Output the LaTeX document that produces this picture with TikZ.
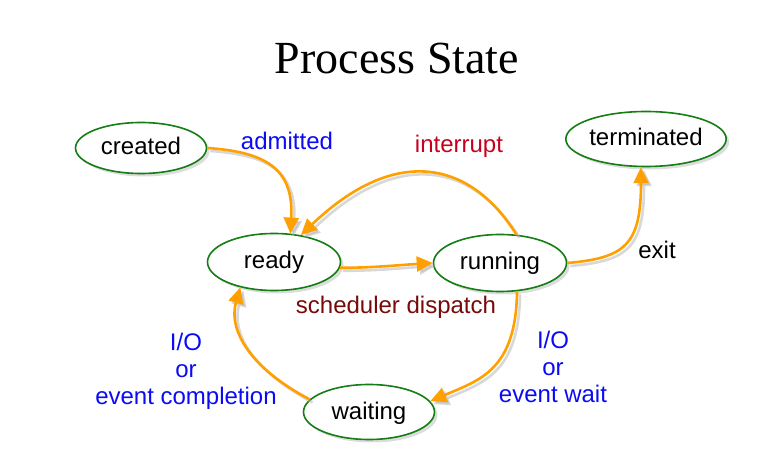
\documentclass[tikz,border=0pt]{standalone}
\usepackage{fontspec}
\setmainfont{Liberation Sans}
\newfontfamily\titlefont{Liberation Serif}
\usetikzlibrary{shapes.geometric,arrows.meta,shadows}
\definecolor{stategreen}{RGB}{20,125,20}
\definecolor{flow}{RGB}{255,160,0}
\definecolor{lblblue}{RGB}{10,10,245}
\definecolor{lblred}{RGB}{200,0,30}
\definecolor{lblmaroon}{RGB}{120,10,10}
\tikzset{
  statebox/.style={ellipse, draw=stategreen, line width=1.6pt, fill=white,
    inner sep=0pt, text height=16pt, text depth=2pt,
    font=\fontsize{24}{27}\selectfont,
    drop shadow={opacity=0.28, shadow xshift=3pt, shadow yshift=-3pt}},
  flowline/.style={draw=flow, line width=2.6pt,
    -{Triangle[length=16pt,width=15pt]},
    preaction={draw=black!30, line width=2.6pt, opacity=0.5,
      transform canvas={shift={(3,3)}}}},
  lbl/.style={font=\fontsize{24}{27}\selectfont, align=center, inner sep=0pt}
}
\begin{document}
\begin{tikzpicture}[x=1pt,y=-1pt]
\useasboundingbox (0,0) rectangle (764,465);

\node[anchor=base, inner sep=0pt, font=\titlefont\fontsize{46}{50}\selectfont] (title) at (397,74) {Process State};

\node[statebox, minimum width=131pt, minimum height=51pt] (created) at (141,148) {created};
\node[statebox, minimum width=133pt, minimum height=57pt] (ready) at (274,262) {ready};
\node[statebox, minimum width=133pt, minimum height=57pt] (running) at (500,263) {running};
\node[statebox, minimum width=132pt, minimum height=55pt] (terminated) at (646,139) {terminated};
\node[statebox, minimum width=131pt, minimum height=55pt] (waiting) at (369,412) {waiting};

% transitions
\draw[flowline] (created.east) .. controls (265,152) and (294,168) .. (ready.60);
\draw[flowline] (running.60) .. controls (470,160) and (395,145) .. (ready.45);
\draw[flowline] (ready.-5) .. controls (370,268) and (400,265) .. (running.west);
\draw[flowline] (running.east) .. controls (625,258) and (641,245) .. (terminated.-100);
\draw[flowline] (running.-59) .. controls (516,370) and (480,380) .. (waiting.10);
\draw[flowline] (waiting.168) .. controls (250,368) and (228,330) .. (ready.-143);

% transition labels
\node[lbl, text=lblblue, anchor=base] (admitted) at (287,150) {admitted};
\node[lbl, text=lblred, anchor=base] (interrupt) at (459,153) {interrupt};
\node[lbl, text=lblmaroon, anchor=base] (dispatch) at (396,314) {scheduler dispatch};
\node[lbl, anchor=base] (exit) at (657,259) {exit};
\node[lbl, text=lblblue] (iodone) at (186,371) {I/O\\or\\event completion};
\node[lbl, text=lblblue] (iowait) at (553,367) {I/O\\or\\event wait};
\end{tikzpicture}
\end{document}
